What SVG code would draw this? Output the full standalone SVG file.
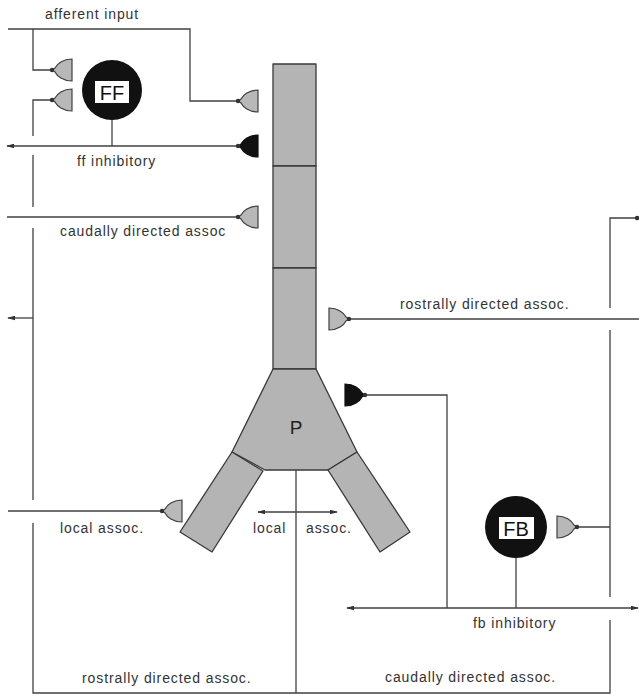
<svg xmlns="http://www.w3.org/2000/svg" xmlns:xlink="http://www.w3.org/1999/xlink" width="639" height="696" viewBox="0 0 639 696">
<style>
.bg{fill:#ffffff}
.ln{fill:none;stroke:#404040;stroke-width:1.3}
.cell{fill:#b4b4b4;stroke:#383838;stroke-width:1.3;stroke-linejoin:round}
.syn{fill:#b8b8b8;stroke:#404040;stroke-width:1.2}
.inh{fill:#111111;stroke:#111111;stroke-width:1.2}
.lbl{font-family:"Liberation Sans",Arial,sans-serif;font-size:14px;letter-spacing:0.9px;fill:#333333}
.big{font-family:"Liberation Sans",Arial,sans-serif;font-size:20px;fill:#111111}
.nc{fill:#111111}
.box{fill:#ffffff}
</style>
<defs>
<g id="syn">
<path d="M0,-11 L0,11 C-9,11 -15,6 -17,2 L-20,0 L-17,-2 C-15,-6 -9,-11 0,-11 Z"/>
<circle cx="-20" cy="0" r="2.2" stroke="none" fill="#333"/>
</g>
<marker id="arr" viewBox="0 0 10 6" refX="9" refY="3" markerWidth="8" markerHeight="5" markerUnits="userSpaceOnUse" orient="auto">
<path d="M0,0 L10,3 L0,6 Z" fill="#333"/>
</marker>
</defs>
<rect class="bg" x="0" y="0" width="639" height="696"/>

<g id="neuron-P">
<rect class="cell" x="273" y="64" width="43" height="102"/>
<rect class="cell" x="273" y="166" width="43" height="102"/>
<rect class="cell" x="273" y="268" width="43" height="101"/>
<polygon class="cell" points="273,369 316,369 357,452 328,470 265,470 232,452"/>
<polygon class="cell" points="232,452 263,471 212,552 180,532"/>
<polygon class="cell" points="357,452 328,470 380,552 410,532"/>
<text x="296" y="434" text-anchor="middle" font-family="Liberation Sans, Arial, sans-serif" font-size="19" fill="#222">P</text>
</g>

<g id="node-FF">
<circle class="nc" cx="112" cy="90" r="30"/>
<rect class="box" x="95" y="81" width="34" height="22"/>
<text class="big" x="112" y="100" text-anchor="middle">FF</text>
</g>

<g id="node-FB">
<circle class="nc" cx="516" cy="527" r="31"/>
<rect class="box" x="499" y="517" width="35" height="22"/>
<text class="big" x="516" y="536" text-anchor="middle">FB</text>
</g>

<g id="connectors">
<!-- afferent input -->
<polyline class="ln" points="8,29 190,29 190,101 238,101"/>
<polyline class="ln" points="33,29 33,70 50,70"/>
<!-- left long loop (rostrally directed assoc.) -->
<polyline class="ln" points="50,100 33,100 33,136"/>
<line class="ln" x1="33" y1="155" x2="33" y2="207"/>
<line class="ln" x1="33" y1="228" x2="33" y2="500"/>
<polyline class="ln" points="33,523 33,693 610,693 610,620"/>
<line class="ln" x1="33" y1="318" x2="8" y2="318" marker-end="url(#arr)"/>
<!-- P axon -->
<line class="ln" x1="296" y1="470" x2="296" y2="693"/>
<!-- ff inhibitory -->
<line class="ln" x1="112" y1="120" x2="112" y2="146"/>
<line class="ln" x1="238" y1="146" x2="7" y2="146" marker-end="url(#arr)"/>
<!-- caudally directed assoc (top) -->
<line class="ln" x1="7" y1="217" x2="238" y2="217"/>
<!-- local assoc -->
<line class="ln" x1="8" y1="511" x2="162" y2="511"/>
<line class="ln" x1="296" y1="512" x2="258" y2="512" marker-end="url(#arr)"/>
<line class="ln" x1="296" y1="512" x2="337" y2="512" marker-end="url(#arr)"/>
<!-- right loop -->
<line class="ln" x1="639" y1="319" x2="349" y2="319"/>
<polyline class="ln" points="639,218 610,218 610,308"/>
<line class="ln" x1="610" y1="330" x2="610" y2="597"/>
<line class="ln" x1="610" y1="527" x2="577" y2="527"/>
<!-- fb inhibitory -->
<polyline class="ln" points="365,395 447,395 447,608"/>
<line class="ln" x1="516" y1="558" x2="516" y2="608"/>
<line class="ln" x1="447" y1="608" x2="347" y2="608" marker-end="url(#arr)"/>
<line class="ln" x1="447" y1="608" x2="638" y2="608" marker-end="url(#arr)"/>
</g>

<g id="synapses">
<use xlink:href="#syn" class="syn" transform="translate(72,70)"/>
<use xlink:href="#syn" class="syn" transform="translate(72,100)"/>
<use xlink:href="#syn" class="syn" transform="translate(258,101)"/>
<use xlink:href="#syn" class="inh" transform="translate(258,146)"/>
<use xlink:href="#syn" class="syn" transform="translate(258,217)"/>
<use xlink:href="#syn" class="syn" transform="translate(182,511)"/>
<use xlink:href="#syn" class="syn" transform="translate(329,319) scale(-1,1)"/>
<use xlink:href="#syn" class="inh" transform="translate(345,395) scale(-1,1)"/>
<use xlink:href="#syn" class="syn" transform="translate(557,527) scale(-1,1)"/>
<use xlink:href="#syn" class="syn" transform="translate(657,218)"/>
</g>

<g id="labels">
<text class="lbl" x="45" y="19">afferent input</text>
<text class="lbl" x="77" y="166">ff inhibitory</text>
<text class="lbl" x="60" y="236">caudally directed assoc</text>
<text class="lbl" x="400" y="309">rostrally directed assoc.</text>
<text class="lbl" x="60" y="533">local assoc.</text>
<text class="lbl" x="253" y="533">local</text>
<text class="lbl" x="306" y="533">assoc.</text>
<text class="lbl" x="473" y="628">fb inhibitory</text>
<text class="lbl" x="82" y="683">rostrally directed assoc.</text>
<text class="lbl" x="385" y="682">caudally directed assoc.</text>
</g>
</svg>
